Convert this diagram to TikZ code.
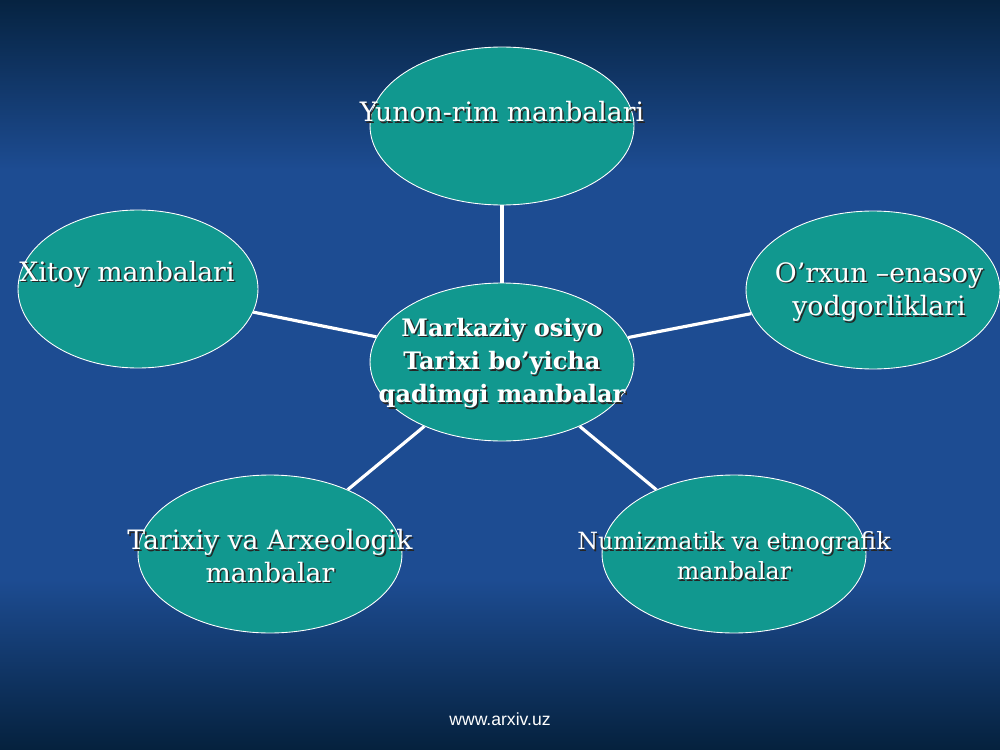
\documentclass[tikz,border=0pt]{standalone}
\usepackage{fontspec}
\setmainfont{DejaVu Serif}
\newfontfamily\webfont{Liberation Sans}
\usetikzlibrary{shapes.geometric}

\definecolor{bgtop}{HTML}{062341}
\definecolor{bgmid}{HTML}{1D4C92}
\definecolor{bgbot}{HTML}{05213D}
\definecolor{ovalfill}{HTML}{11988F}

\tikzset{
    oval/.style={ellipse, draw=white, line width=0.5pt, fill=ovalfill, inner sep=0pt, minimum width=5.28cm, minimum height=3.16cm},
    spoke/.style={draw=white, line width=1.8pt},
    txt/.style={align=center, text=white, inner sep=0pt},
}

% white text with a dark shadow under it
\newcommand{\shtext}[4]{%
    \node[txt, text=black!85, font=#4, xshift=0.9pt, yshift=-0.9pt] (#1s) at #2 {#3};
    \node[txt, font=#4] (#1) at #2 {#3};}

\begin{document}
\begin{tikzpicture}[x=0.02cm, y=-0.02cm]
        \fill[bgmid] (0,0) rectangle (1000,750);    % background
        \shade[top color=bgtop, bottom color=bgmid] (0,0) rectangle (1000,170);
        \shade[top color=bgmid, bottom color=bgbot] (0,580) rectangle (1000,750);
        \useasboundingbox (0,0) rectangle (1000,750);

        \node[oval] (yunon) at (502,126) {};
        \node[oval, minimum width=4.8cm] (xitoy) at (138,289) {};
        \node[oval, minimum width=5.08cm] (orxun) at (873,290) {};
        \node[oval] (markaz) at (502,362) {};
        \node[oval] (tarixiy) at (270,554) {};
        \node[oval] (numiz) at (734,554) {};

        \draw[spoke] (markaz) -- (yunon);
        \draw[spoke] (markaz) -- (xitoy);
        \draw[spoke] (markaz) -- (orxun);
        \draw[spoke] (markaz) -- (tarixiy);
        \draw[spoke] (markaz) -- (numiz);

        \shtext{yunonT}{(502,112)}{Yunon-rim manbalari}{\fontsize{15.2}{19}\selectfont}
        \shtext{xitoyT}{(127,274)}{Xitoy manbalari}{\fontsize{15.2}{19}\selectfont}
        \shtext{orxunT}{(879,292)}{O’rxun –enasoy\\ yodgorliklari}{\fontsize{15.2}{19}\selectfont}
        \shtext{markazT}{(502,363)}{Markaziy osiyo\\Tarixi bo’yicha \\qadimgi manbalar}{\fontsize{13.7}{19}\selectfont\bfseries}
        \shtext{tarixiyT}{(270,556)}{Tarixiy va Arxeologik\\manbalar}{\fontsize{15.2}{18.5}\selectfont}
        \shtext{numizT}{(734,556)}{Numizmatik va etnografik\\manbalar}{\fontsize{13.5}{17}\selectfont}

        \node[text=white, font=\webfont\fontsize{10}{12}\selectfont] (web) at (500,719) {www.arxiv.uz};
\end{tikzpicture}
\end{document}
